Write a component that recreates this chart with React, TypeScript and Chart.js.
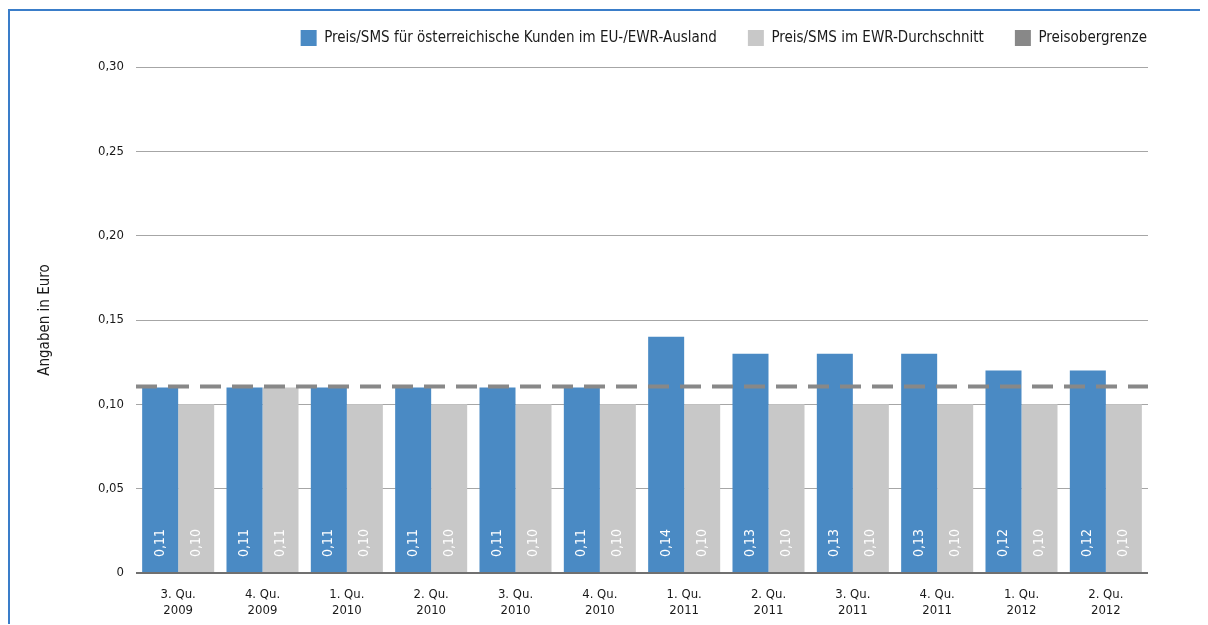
import React, { useEffect, useRef } from 'react';
import { Chart, registerables } from 'chart.js';

Chart.register(...registerables);

const FONT = '"Liberation Sans Narrow", "DejaVu Sans Condensed", "Arial Narrow", Arial, sans-serif';

const categories: string[][] = [
  ['3. Qu.', '2009'], ['4. Qu.', '2009'], ['1. Qu.', '2010'], ['2. Qu.', '2010'],
  ['3. Qu.', '2010'], ['4. Qu.', '2010'], ['1. Qu.', '2011'], ['2. Qu.', '2011'],
  ['3. Qu.', '2011'], ['4. Qu.', '2011'], ['1. Qu.', '2012'], ['2. Qu.', '2012'],
];
const austriaValues = [0.11, 0.11, 0.11, 0.11, 0.11, 0.11, 0.14, 0.13, 0.13, 0.13, 0.12, 0.12];
const ewrValues = [0.10, 0.11, 0.10, 0.10, 0.10, 0.10, 0.10, 0.10, 0.10, 0.10, 0.10, 0.10];
const priceCapValues = [0.1105, 0.1105, 0.1105, 0.1105, 0.1105, 0.1105, 0.1105, 0.1105, 0.1105, 0.1105, 0.1105, 0.1105];
const seriesNames = [
  'Preis/SMS für österreichische Kunden im EU-/EWR-Ausland',
  'Preis/SMS im EWR-Durchschnitt',
  'Preisobergrenze',
];
const yAxisTitle = 'Angaben in Euro';

const LEGEND_PAD = 31;

const fmt = (v: number) => (v === 0 ? '0' : v.toFixed(2).replace('.', ','));

// Draws the price cap across the full plot width, using the y scale.
const capLine = {
  id: 'capLine',
  afterDatasetsDraw(chart: any) {
    const ds = chart.data.datasets[2];
    const ctx = chart.ctx;
    const { left, right } = chart.chartArea;
    const y = chart.scales.y.getPixelForValue(ds.data[0]);
    ctx.save();
    ctx.strokeStyle = ds.borderColor;
    ctx.lineWidth = ds.borderWidth;
    ctx.setLineDash(ds.borderDash);
    ctx.beginPath();
    ctx.moveTo(left, y);
    ctx.lineTo(right, y);
    ctx.stroke();
    ctx.restore();
  },
};

const barLabels = {
  id: 'barLabels',
  afterDatasetsDraw(chart: any) {
    const ctx = chart.ctx;
    [0, 1].forEach((di) => {
      const meta = chart.getDatasetMeta(di);
      meta.data.forEach((el: any, i: number) => {
        const v = chart.data.datasets[di].data[i] as number;
        ctx.save();
        ctx.translate(el.x, el.base - 15);
        ctx.rotate(-Math.PI / 2);
        ctx.font = '14px ' + FONT;
        ctx.fillStyle = '#ffffff';
        ctx.textAlign = 'left';
        ctx.textBaseline = 'middle';
        ctx.fillText(fmt(v), 0, 0);
        ctx.restore();
      });
    });
  },
};

const legendPos = {
  id: 'legendPos',
  afterLayout(chart: any) {
    const lg = chart.legend;
    if (!lg) return;
    const pad = lg.options.labels.padding;
    lg.top = 19 - pad;
    lg.right = chart.chartArea.right + pad - 1;
  },
};

export default function App() {
  const ref = useRef<HTMLCanvasElement>(null);
  useEffect(() => {
    document.documentElement.style.overflow = 'hidden';
    Chart.defaults.font.family = FONT;
    const chart = new Chart(ref.current!, {
      type: 'bar',
      data: {
        labels: categories,
        datasets: [
          {
            label: seriesNames[0],
            data: austriaValues,
            backgroundColor: '#4a8ac4',
            borderWidth: 0,
            categoryPercentage: 0.854,
            barPercentage: 1,
          },
          {
            label: seriesNames[1],
            data: ewrValues,
            backgroundColor: '#c8c8c8',
            borderWidth: 0,
            categoryPercentage: 0.854,
            barPercentage: 1,
          },
          {
            type: 'line',
            label: seriesNames[2],
            data: priceCapValues,
            borderColor: '#888888',
            backgroundColor: '#888888',
            borderWidth: 4,
            borderDash: [21, 11],
            showLine: false,
            pointRadius: 0,
            fill: false,
          } as any,
        ],
      },
      options: {
        animation: false,
        responsive: false,
        layout: { padding: { top: 30 - LEGEND_PAD, right: 60, bottom: 0, left: 0 } },
        plugins: {
          tooltip: { enabled: false },
          legend: {
            position: 'top',
            align: 'end',
            labels: {
              boxWidth: 16,
              boxHeight: 16,
              padding: LEGEND_PAD,
              color: '#1a1a1a',
              font: { size: 15 },
              generateLabels: (chart: any) => {
                const items = Chart.defaults.plugins.legend.labels.generateLabels(chart);
                items.forEach((it: any) => {
                  it.lineWidth = 0;
                  it.lineDash = [];
                  it.strokeStyle = 'rgba(0,0,0,0)';
                });
                return items;
              },
            },
          },
        },
        scales: {
          x: {
            grid: { display: false },
            border: { display: false },
            ticks: {
              padding: 6,
              color: '#1a1a1a',
              font: { size: 13, lineHeight: 1.2 },
              maxRotation: 0,
              autoSkip: false,
            },
            afterFit: (s: any) => {
              s.height = 52;
            },
          },
          y: {
            min: 0,
            max: 0.3,
            ticks: {
              stepSize: 0.05,
              padding: 12,
              color: '#1a1a1a',
              font: { size: 13 },
              callback: (v: any) => fmt(Number(v)),
            },
            grid: {
              drawTicks: false,
              color: (c: any) => (c.tick && c.tick.value === 0 ? '#707070' : '#a6a6a6'),
              lineWidth: (c: any) => (c.tick && c.tick.value === 0 ? 2 : 1),
            },
            border: { display: false },
            title: {
              display: true,
              text: yAxisTitle,
              color: '#1a1a1a',
              font: { size: 15 },
              padding: { top: 26, bottom: 0 },
            },
            afterFit: (s: any) => {
              s.width = 126;
            },
          },
        },
      } as any,
      plugins: [capLine, barLabels, legendPos],
    });
    return () => chart.destroy();
  }, []);

  return (
    <div
      style={{
        position: 'relative',
        top: 1,
        width: 1200,
        height: 614,
        borderTop: '2px solid #3a7dc9',
        borderLeft: '2px solid #3a7dc9',
        overflow: 'hidden',
      }}
    >
      <canvas ref={ref} width={1198} height={614} style={{ display: 'block' }} />
    </div>
  );
}
